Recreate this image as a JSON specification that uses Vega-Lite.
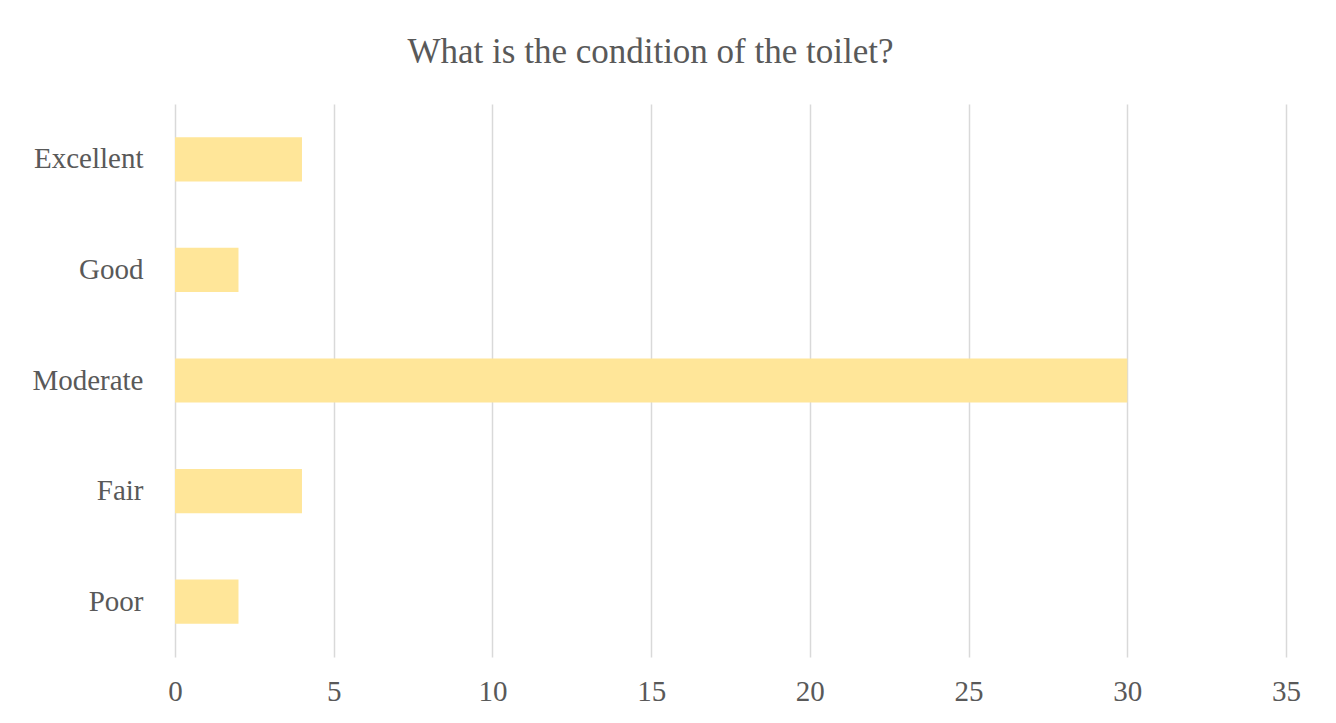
{
  "$schema": "https://vega.github.io/schema/vega-lite/v6.json",
  "width": 1111,
  "height": 553,
  "autosize": "none",
  "padding": {"left": 175, "top": 104, "right": 50, "bottom": 66},
  "background": "white",
  "title": {
    "text": "What is the condition of the toilet?",
    "font": "'Times New Roman', 'Liberation Serif', 'DejaVu Serif', serif",
    "fontSize": 35,
    "fontWeight": "normal",
    "color": "#595959",
    "anchor": "middle",
    "frame": "group",
    "dx": -80,
    "offset": 34
  },
  "data": {
    "values": [
      {"condition": "Excellent", "count": 4},
      {"condition": "Good", "count": 2},
      {"condition": "Moderate", "count": 30},
      {"condition": "Fair", "count": 4},
      {"condition": "Poor", "count": 2}
    ]
  },
  "mark": {"type": "bar", "color": "#FFE699"},
  "encoding": {
    "y": {
      "field": "condition",
      "type": "nominal",
      "sort": ["Excellent", "Good", "Moderate", "Fair", "Poor"],
      "scale": {"paddingInner": 0.6, "paddingOuter": 0.3},
      "axis": {
        "title": null,
        "domain": false,
        "ticks": false,
        "labelPadding": 32,
        "labelFont": "'Times New Roman', 'Liberation Serif', 'DejaVu Serif', serif",
        "labelFontSize": 29,
        "labelColor": "#595959"
      }
    },
    "x": {
      "field": "count",
      "type": "quantitative",
      "scale": {"domain": [0, 35], "nice": false},
      "axis": {
        "title": null,
        "values": [0, 5, 10, 15, 20, 25, 30, 35],
        "domain": false,
        "ticks": false,
        "labelPadding": 20,
        "labelFont": "'Times New Roman', 'Liberation Serif', 'DejaVu Serif', serif",
        "labelFontSize": 29,
        "labelColor": "#595959",
        "grid": true,
        "gridColor": "#D9D9D9",
        "gridWidth": 1.5,
        "labelFlush": false
      }
    }
  },
  "config": {
    "view": {"stroke": null}
  }
}
